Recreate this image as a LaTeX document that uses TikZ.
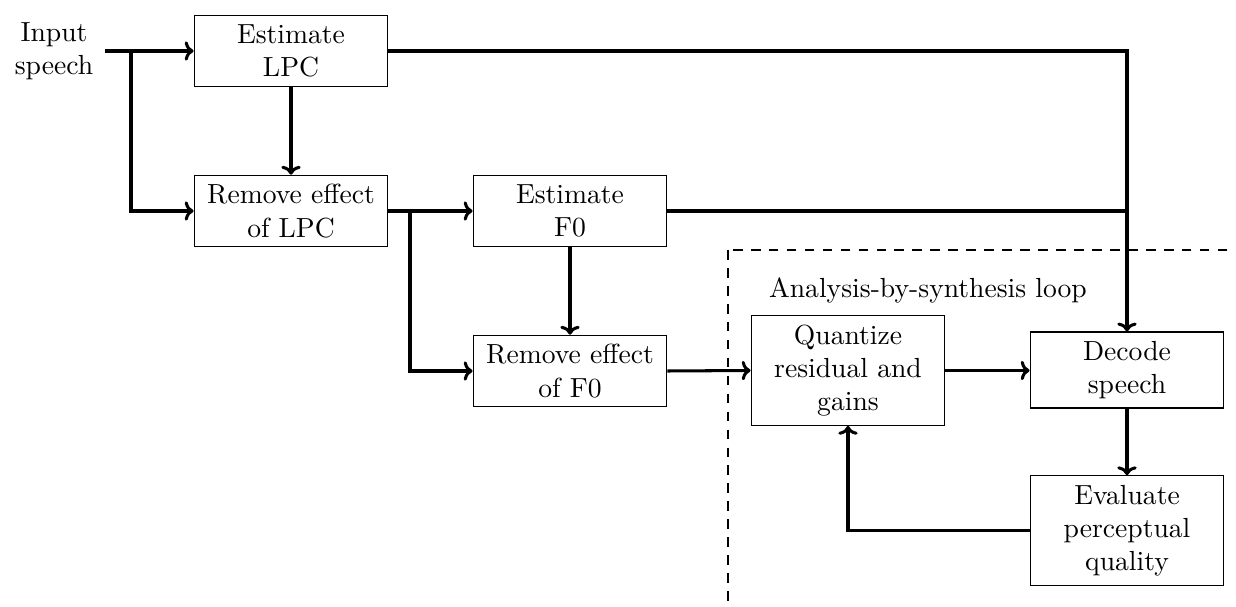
\documentclass[tikz,border=0pt]{standalone}
\usetikzlibrary{arrows.meta}
\begin{document}
\begin{tikzpicture}[x=0.362pt,y=-0.362pt,
  blk/.style={draw,line width=0.4pt,text width=63.5pt,align=center,inner sep=3.33pt},
  conn/.style={line width=1.1pt,-{To[length=3.2pt,width=7pt]}},
  wire/.style={line width=1.1pt},
  loopbox/.style={draw,line width=0.4pt,dash pattern=on 3.5pt off 3pt}]
\useasboundingbox (0,0) rectangle (1236,607);
\node[align=center,inner sep=0pt] (in) at (54,51) {Input\\speech};
\node[blk] (elpc) at (291,51) {Estimate\\LPC};
\node[blk] (rlpc) at (291,211) {Remove effect\\of LPC};
\node[blk] (ef0) at (570,211) {Estimate\\F0};
\node[blk] (rf0) at (570,371) {Remove effect\\of F0};
\node[blk] (q) at (848,370.5) {Quantize\\residual and\\gains};
\node[blk] (dec) at (1127,370) {Decode\\speech};
\node[blk] (ev) at (1127,530.5) {Evaluate\\perceptual\\quality};
\node[inner sep=0pt] (lbl) at (928,290) {Analysis-by-synthesis loop};
\draw[loopbox] (728,250) rectangle (1270,640);
\coordinate (s) at (105,51);
\coordinate (b1) at (131,51);
\coordinate (b2) at (410,211);
\draw[conn] (s) -- (elpc.west);
\draw[conn] (b1) |- (rlpc.west);
\draw[conn] (elpc) -- (rlpc);
\draw[conn] (rlpc.east) -- (ef0.west);
\draw[conn] (b2) |- (rf0.west);
\draw[conn] (ef0) -- (rf0);
\draw[conn] (elpc.east) -| (dec.north);
\draw[wire] (ef0.east) -- (ef0.east -| dec.north);
\draw[conn] (rf0.east) -- (q.west);
\draw[conn] (q.east) -- (q.east -| dec.west);
\draw[conn] (dec) -- (ev);
\draw[conn] (ev.west) -| (q.south);
\end{tikzpicture}
\end{document}
